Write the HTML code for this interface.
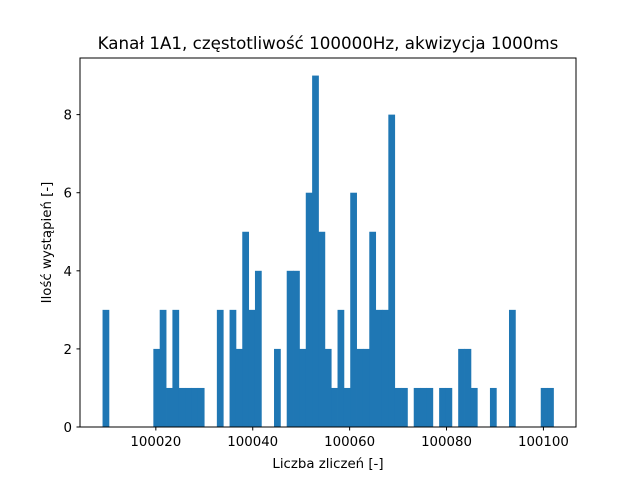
<!DOCTYPE html>
<html><head><meta charset="utf-8"><style>
html,body{margin:0;padding:0;background:#fff;}
svg{display:block;font-family:"DejaVu Sans","Liberation Sans",sans-serif;}
</style></head><body>
<svg id="chart" width="640" height="480" viewBox="0 0 640 480">
<rect x="0" y="0" width="640" height="480" fill="#fff"/>
<text x="328" y="49" text-anchor="middle" font-size="16.7" fill="#000">Kanał 1A1, częstotliwość 100000Hz, akwizycja 1000ms</text>
<g id="bars"></g>
<g id="xticks"></g>
<g id="yticks"></g>
<rect x="80" y="58" width="496" height="369" fill="none" stroke="#000" stroke-width="1"/>
<text x="328" y="468" text-anchor="middle" font-size="13.33" fill="#000">Liczba zliczeń [-]</text>
<text transform="translate(51,242.5) rotate(-90)" text-anchor="middle" font-size="13.33" fill="#000">Ilość wystąpień [-]</text>
</svg>
<script>
const binMin = 100009;
const binMax = 100102.07;
const counts = [3,0,0,0,0,0,0,0,2,3,1,3,1,1,1,1,0,0,3,0,3,2,5,3,4,0,0,2,0,4,4,2,6,9,5,2,1,3,1,6,2,2,5,3,3,8,1,1,0,1,1,1,0,1,1,0,2,2,1,0,0,1,0,0,3,0,0,0,0,1,1];
const xTickValues = [100020,100040,100060,100080,100100];
const yTickValues = [0,2,4,6,8];

const L=80,T=58,W=496,H=369;
const span=binMax-binMin, xLo=binMin-0.05*span, xHi=binMax+0.05*span;
const yMax=Math.max(...counts)*1.05;
const xs=v=>L+(v-xLo)/(xHi-xLo)*W;
const ys=v=>T+H-v/yMax*H;
const NS="http://www.w3.org/2000/svg";
const bw=span/counts.length;
const gb=document.getElementById('bars');
counts.forEach((c,i)=>{
  if(!c) return;
  const r=document.createElementNS(NS,'rect');
  const x0=xs(binMin+i*bw), x1=xs(binMin+(i+1)*bw);
  r.setAttribute('x',x0);r.setAttribute('width',x1-x0+0.4);
  r.setAttribute('y',ys(c));r.setAttribute('height',ys(0)-ys(c));
  r.setAttribute('fill','#1f77b4');
  
  
  gb.appendChild(r);
});
const gx=document.getElementById('xticks');
xTickValues.forEach(v=>{
  const x=xs(v);
  const l=document.createElementNS(NS,'line');
  l.setAttribute('x1',x);l.setAttribute('x2',x);l.setAttribute('y1',427);l.setAttribute('y2',430.5);
  l.setAttribute('stroke','#000');
  
  
  gx.appendChild(l);
  const t=document.createElementNS(NS,'text');
  t.setAttribute('x',x);t.setAttribute('y',446);t.setAttribute('text-anchor','middle');
  t.setAttribute('font-size','13.33');t.textContent=v;
  
  
  gx.appendChild(t);
});
const gy=document.getElementById('yticks');
yTickValues.forEach(v=>{
  const y=ys(v);
  const l=document.createElementNS(NS,'line');
  l.setAttribute('x1',76.5);l.setAttribute('x2',80);l.setAttribute('y1',y);l.setAttribute('y2',y);
  l.setAttribute('stroke','#000');
  
  
  gy.appendChild(l);
  const t=document.createElementNS(NS,'text');
  t.setAttribute('x',72);t.setAttribute('y',y+5);t.setAttribute('text-anchor','end');
  t.setAttribute('font-size','13.33');t.textContent=v;
  
  
  gy.appendChild(t);
});
</script>
</body></html>
